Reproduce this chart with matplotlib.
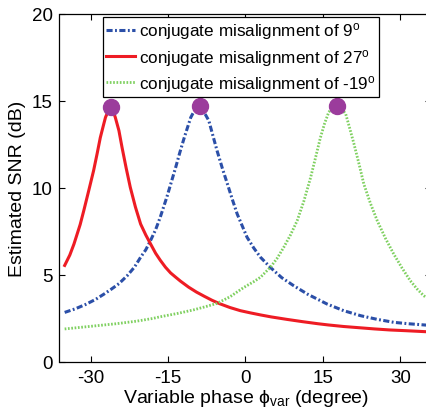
import matplotlib
matplotlib.use("Agg")
import matplotlib.pyplot as plt

plt.rcParams['font.family'] = ['Liberation Sans', 'DejaVu Sans']
plt.rcParams['mathtext.fontset'] = 'custom'
plt.rcParams['mathtext.rm'] = 'Liberation Sans'
plt.rcParams['mathtext.it'] = 'Liberation Sans:italic'
plt.rcParams['axes.unicode_minus'] = False

# Series 1: conjugate misalignment of 9 deg (blue, dash-dot)
blue_x = [-35, -33, -31, -29, -27.4, -26, -24.5, -22.9, -21.5, -20.3, -19.3, -18.4, -17.4,
          -16.5, -15.2, -14.5, -13.5, -12.7, -11.9, -11.2, -10.6, -9.8, -8.9, -8.0, -7.1,
          -6.3, -5.5, -4.5, -3.5, -2.5, -1.6, -0.6, 0.3, 1.6, 2.9, 4.8, 7, 9.3, 12, 15.8,
          19, 22.3, 25.5, 28.7, 31.5, 35]
blue_y = [2.85, 3.05, 3.3, 3.6, 3.9, 4.18, 4.5, 4.96, 5.45, 6.02, 6.45, 6.97, 7.6,
          8.32, 9.5, 10.2, 11.2, 12.05, 12.85, 13.5, 14.05, 14.5, 14.7, 14.35, 13.87,
          13.0, 12.14, 11.15, 10.23, 9.3, 8.5, 7.8, 7.17, 6.55, 6.02, 5.44, 4.85, 4.39, 3.9, 3.33,
          2.95, 2.66, 2.45, 2.28, 2.2, 2.12]

# Series 2: conjugate misalignment of 27 deg (red, solid)
red_x = [-35, -34, -33.2, -32, -31.3, -30.3, -29.4, -28.7, -28.1, -27.5, -27.1, -26.6,
         -26.1, -25.6, -25.2, -24.5, -23.9, -23.1, -22.3, -21.3, -20.3, -19.3, -18.4,
         -17.4, -16.5, -15.5, -14.5, -13.5, -12.6, -11, -9.5, -8, -6.5, -5, -3, -1, 1, 3,
         5, 8, 11, 14, 16, 19, 22, 25, 28, 31, 35]
red_y = [5.55, 6.15, 6.78, 7.9, 8.7, 9.9, 11.0, 12.0, 12.9, 13.6, 14.06, 14.4,
         14.6, 14.4, 14.06, 13.3, 12.34, 11.15, 10.04, 8.9, 7.93, 7.3, 6.8,
         6.25, 5.85, 5.45, 5.12, 4.87, 4.65, 4.3, 4.02, 3.78, 3.55, 3.35, 3.13, 2.95, 2.82, 2.7,
         2.59, 2.45, 2.32, 2.2, 2.13, 2.04, 1.97, 1.9, 1.84, 1.8, 1.74]

# Series 3: conjugate misalignment of -19 deg (green, dotted)
green_x = [-35, -30, -25, -21, -18, -16.5, -13, -10, -7.5, -5.5, -3, -0.3, 1.5, 2.9, 4.8,
           6.1, 7.4, 8.7, 10.0, 11.3, 12.6, 13.6, 14.5, 15.3, 16.1, 16.9, 17.7, 18.5, 19.4,
           20.2, 21.0, 22.0, 22.9, 24.2, 25.5, 27.1, 28.7, 30.3, 31.9, 33.2, 34.5, 35]
green_y = [1.9, 2.05, 2.2, 2.35, 2.5, 2.6, 2.8, 3.0, 3.2, 3.37, 3.75, 4.29, 4.6, 4.87, 5.44,
           5.95, 6.59, 7.3, 8.12, 9.25, 10.6, 11.8, 12.9, 13.7, 14.35, 14.65, 14.73, 14.6, 14.25,
           13.4, 12.53, 11.35, 10.23, 9.1, 8.12, 7.1, 6.2, 5.4, 4.67, 4.2, 3.81, 3.7]

# Peak markers
peak_x = [-26.1, -8.9, 17.7]
peak_y = [14.65, 14.73, 14.73]

labels = ['conjugate misalignment of 9$^{\\mathrm{o}}$',
          'conjugate misalignment of 27$^{\\mathrm{o}}$',
          'conjugate misalignment of -19$^{\\mathrm{o}}$']

xticks = [-30, -15, 0, 15, 30]
yticks = [0, 5, 10, 15, 20]

fig = plt.figure(figsize=(4.27, 4.10), dpi=100)
ax = fig.add_axes([59.5 / 427, 47 / 410, 372 / 427, 348 / 410])

ax.plot(blue_x, blue_y, color='#2B4FA8', lw=2.2, linestyle=(0, (2.0, 0.8, 0.6, 0.8)),
        label=labels[0])
ax.plot(red_x, red_y, color='#EE1C24', lw=2.2, linestyle='-', label=labels[1])
ax.plot(green_x, green_y, color='#7FD060', lw=2.0, linestyle=(0, (0.6, 0.6)),
        label=labels[2])
ax.plot(peak_x, peak_y, linestyle='none', marker='o', markersize=11.5,
        color='#9B3C9C', markeredgecolor='#9B3C9C', zorder=5)

ax.set_xlim(-36, 36)
ax.set_ylim(0, 20)
ax.set_xticks(xticks)
ax.set_yticks(yticks)
ax.tick_params(direction='in', top=True, right=True, labelsize=13.5, length=4, width=0.8, pad=5)
for s in ax.spines.values():
    s.set_linewidth(0.9)

ax.set_xlabel('Variable phase \u03d5$_{\\mathrm{var}}$ (degree)', fontsize=14, labelpad=1)
ax.set_ylabel('Estimated SNR (dB)', fontsize=14, labelpad=4)

leg = ax.legend(loc='upper left', bbox_to_anchor=(43.5 / 372, 1 - 3 / 348), fontsize=12.3,
                frameon=True, fancybox=False, edgecolor='black', framealpha=1,
                handlelength=1.7, handletextpad=0.2, borderpad=0.2, labelspacing=0.3,
                borderaxespad=0)
leg.get_frame().set_linewidth(0.9)

fig.savefig('out.png', dpi=100)
